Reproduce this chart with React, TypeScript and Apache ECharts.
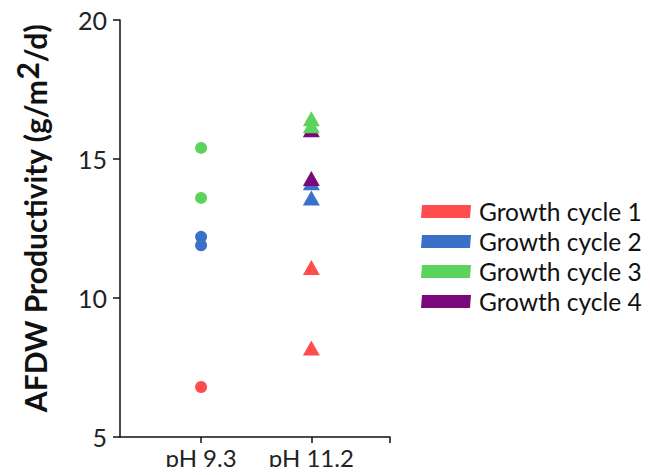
import React, { useEffect, useRef } from "react";
import * as echarts from "echarts";

const categories = ["pH 9.3", "pH 11.2"];
const categoryPositions = [1, 2.36];
const xAxisEnd = 3.33;
const seriesNames = ["Growth cycle 1", "Growth cycle 2", "Growth cycle 3", "Growth cycle 4"];
const seriesColors = ["#FF4D4D", "#3A70C8", "#5CD35C", "#780A7C"];
// values per cycle at pH 9.3 and pH 11.2
const cycle1Ph93 = [6.8];
const cycle1Ph112 = [11.1, 8.2];
const cycle2Ph93 = [12.2, 11.9];
const cycle2Ph112 = [14.15, 13.6];
const cycle3Ph93 = [15.4, 13.6];
const cycle3Ph112 = [16.45, 16.2];
const cycle4Ph93: number[] = [];
const cycle4Ph112 = [16.05, 14.3];
const yTicks = [5, 10, 15, 20];

const seriesData = [
  [cycle1Ph93, cycle1Ph112],
  [cycle2Ph93, cycle2Ph112],
  [cycle3Ph93, cycle3Ph112],
  [cycle4Ph93, cycle4Ph112],
];

const legendIcon = "path://M1,0 L50,0 L49,13 L0,13 Z";
const FONT = "Lato";

export default function App() {
  const ref = useRef<HTMLDivElement>(null);
  useEffect(() => {
    if (!ref.current) return;
    const chart = echarts.init(ref.current, null, { renderer: "svg" });
    const zOrder = [1, 2, 4, 3];
    const series: any[] = [];
    seriesNames.forEach((name, i) => {
      const pts: any[] = [];
      seriesData[i].forEach((vals, c) => {
        vals.forEach((v) => {
          pts.push({
            value: [categoryPositions[c], v],
            symbol: c === 0 ? "circle" : "triangle",
            symbolSize: c === 0 ? 12 : [17, 15],
          });
        });
      });
      series.push({
        name,
        type: "scatter",
        data: pts,
        z: zOrder[i] + 2,
        itemStyle: { color: seriesColors[i], opacity: 1 },
      });
    });
    chart.setOption({
      animation: false,
      textStyle: { fontFamily: FONT },
      grid: { left: 120, top: 20, width: 270, height: 417 },
      legend: {
        orient: "vertical",
        left: 416,
        top: 194,
        itemWidth: 50,
        itemHeight: 13,
        itemGap: 5,
        data: seriesNames.map((n) => ({ name: n, icon: legendIcon })),
        textStyle: { fontSize: 24.5, color: "#111", fontFamily: FONT, padding: [0, 0, 0, 3] },
        selectedMode: false,
      },
      xAxis: {
        type: "value",
        min: 0,
        max: xAxisEnd,
        splitLine: { show: false },
        axisLine: { lineStyle: { color: "#111", width: 1.5 } },
        axisTick: {
          show: true,
          customValues: [...categoryPositions, xAxisEnd],
          length: 6,
          lineStyle: { color: "#111", width: 1.5 },
        },
        axisLabel: {
          customValues: categoryPositions,
          formatter: (v: number) => {
            const idx = categoryPositions.findIndex((p) => Math.abs(p - v) < 1e-6);
            return idx >= 0 ? categories[idx] : "";
          },
          fontSize: 24,
          color: "#222",
          margin: 8,
        },
      },
      yAxis: {
        type: "value",
        min: 5,
        max: 20,
        interval: 5,
        splitLine: { show: false },
        axisLine: { show: true, lineStyle: { color: "#111", width: 1.5 } },
        axisTick: { show: true, length: 7, lineStyle: { color: "#111", width: 1.5 } },
        axisLabel: {
          fontSize: 25,
          color: "#222",
          margin: 13,
          formatter: (v: number) => (yTicks.includes(v) ? String(v) : ""),
        },
        name: "AFDW Productivity (g/m{sup|2}/d)",
        nameLocation: "middle",
        nameGap: 62,
        nameTextStyle: {
          fontSize: 30,
          fontWeight: "bold",
          color: "#111",
          fontFamily: FONT,
          padding: [0, 0, 0, 20],
          rich: {
            sup: {
              fontSize: 30,
              fontWeight: "bold",
              color: "#111",
              fontFamily: FONT,
              verticalAlign: "top",
              padding: [0, 0, 16, 0],
            },
          },
        },
      },
      series,
    });
    return () => chart.dispose();
  }, []);
  return <div ref={ref} style={{ width: 650, height: 475, margin: -8 }} />;
}
